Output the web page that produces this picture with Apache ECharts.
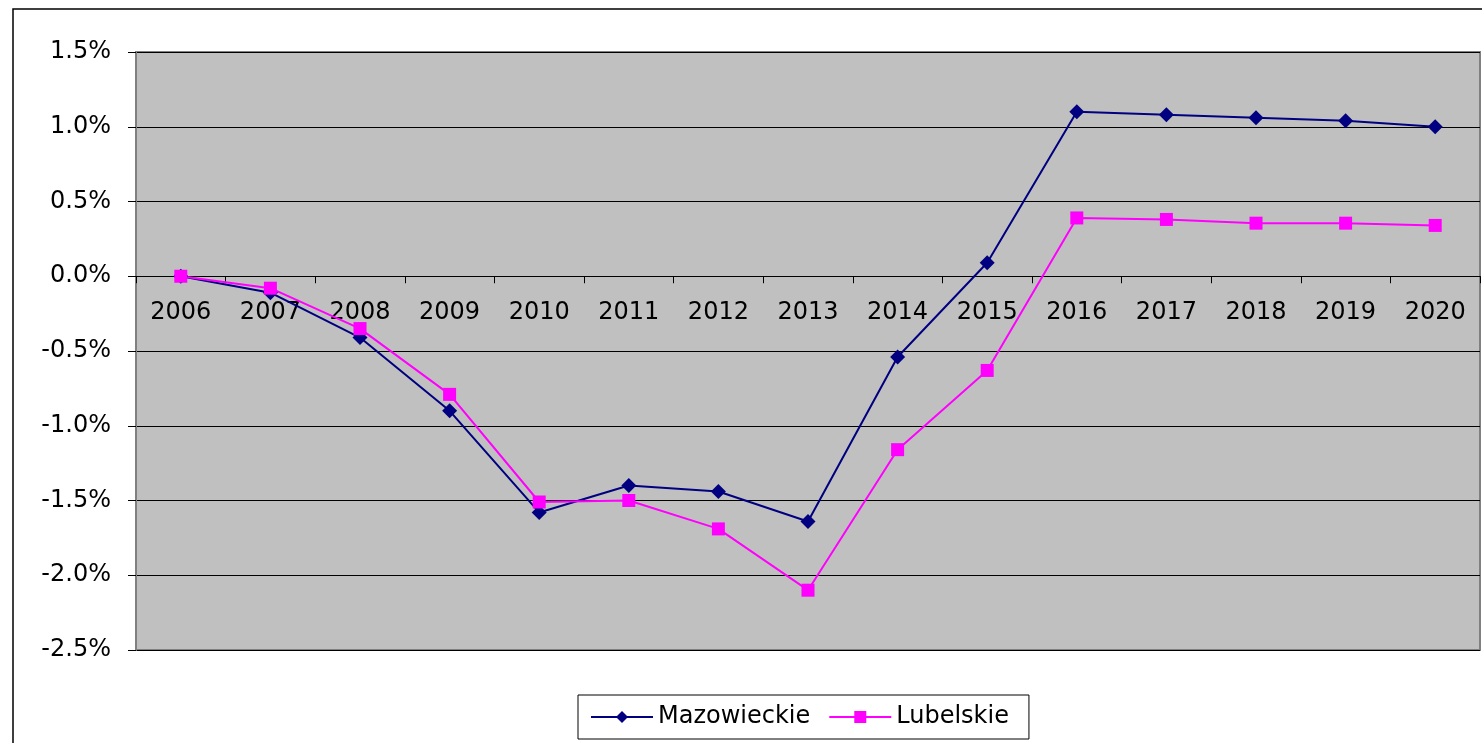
<!DOCTYPE html>
<html>
<head>
<meta charset="utf-8">
<title>Mazowieckie / Lubelskie</title>
<script src="https://cdn.jsdelivr.net/npm/echarts@6/dist/echarts.min.js"></script>
<style>
  html, body { margin: 0; padding: 0; background: #fff; }
  #chart { width: 1482px; height: 743px; }
</style>
</head>
<body>
<div id="chart"></div>
<script>
var years = ['2006','2007','2008','2009','2010','2011','2012','2013','2014','2015','2016','2017','2018','2019','2020'];
var mazowieckie = [0.0, -0.11, -0.41, -0.90, -1.58, -1.40, -1.44, -1.64, -0.54, 0.09, 1.10, 1.08, 1.06, 1.04, 1.00];
var lubelskie = [0.0, -0.08, -0.35, -0.79, -1.51, -1.50, -1.69, -2.10, -1.16, -0.63, 0.39, 0.38, 0.355, 0.355, 0.34];

var chart = echarts.init(document.getElementById('chart'));
var font = 'DejaVu Sans, sans-serif';

// grid: top 52, height 598, range -2.5..1.5 -> zero line 373.75px above bottom
var yMin = -2.5, yMax = 1.5;
var gridTop = 52, gridBottom = 93, gridH = 743 - gridTop - gridBottom;
var zeroOffset = -gridH * (0 - yMin) / (yMax - yMin);

var option = {
    animation: false,
    textStyle: { fontFamily: font },
    graphic: [{
        type: 'rect',
        shape: { x: 13, y: 9, width: 1520, height: 800 },
        style: { fill: 'none', stroke: '#000', lineWidth: 1.5 },
        z: -1
    }],
    grid: {
        left: 136, right: 2, top: gridTop, bottom: gridBottom,
        show: true,
        backgroundColor: '#C0C0C0',
        borderColor: '#808080',
        borderWidth: 2
    },
    legend: {
        data: ['Mazowieckie', 'Lubelskie'],
        left: 578, top: 695,
        padding: [10, 20, 10, 12],
        borderColor: '#000',
        borderWidth: 1,
        itemWidth: 62,
        itemHeight: 15,
        itemGap: 18,
        textStyle: { fontSize: 24, color: '#000', fontFamily: font }
    },
    xAxis: {
        type: 'category',
        data: years,
        boundaryGap: true,
        offset: zeroOffset,
        axisLine: { onZero: false, lineStyle: { color: '#000', width: 1 } },
        axisTick: { show: true, inside: false, length: 7, lineStyle: { color: '#000' } },
        axisLabel: { margin: 25, fontSize: 24, color: '#000', fontFamily: font },
        splitLine: { show: false }
    },
    yAxis: {
        type: 'value',
        min: yMin, max: yMax, interval: 0.5,
        axisLine: { show: true, lineStyle: { color: '#808080', width: 2 } },
        axisTick: { show: true, length: 8, lineStyle: { color: '#000' } },
        axisLabel: {
            margin: 25, fontSize: 24, color: '#000', fontFamily: font,
            formatter: function (v) { return v.toFixed(1) + '%'; }
        },
        splitLine: { show: true, lineStyle: { color: '#000', width: 1 } }
    },
    series: [{
        name: 'Mazowieckie',
        type: 'line',
        data: mazowieckie,
        symbol: 'diamond',
        symbolSize: 15,
        color: '#000080',
        lineStyle: { width: 2, color: '#000080' },
        itemStyle: { color: '#000080' }
    }, {
        name: 'Lubelskie',
        type: 'line',
        data: lubelskie,
        symbol: 'rect',
        symbolSize: 13,
        color: '#FF00FF',
        lineStyle: { width: 2, color: '#FF00FF' },
        itemStyle: { color: '#FF00FF' }
    }]
};

chart.setOption(option);
</script>
</body>
</html>
